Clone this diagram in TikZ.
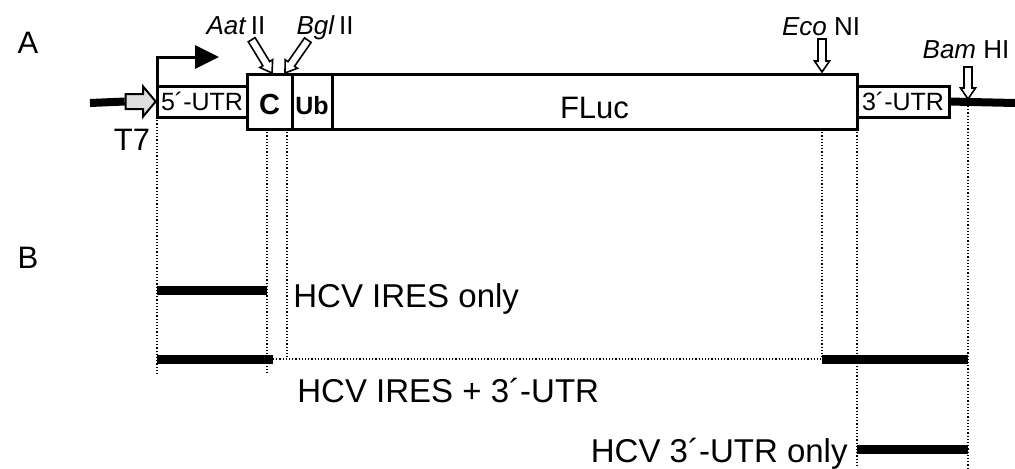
\documentclass[tikz,border=0pt]{standalone}
\usepackage{fontspec}
\setmainfont{Liberation Sans}
\usetikzlibrary{positioning,shapes.arrows,arrows.meta}
\tikzset{>=latex}
\tikzset{pics/cutarrow/.style={code={
    \draw[line width=0.8pt,fill=white] (0,0) -- (-11,7.5) -- (-11,4) -- (-#1,4)
        -- (-#1,-4) -- (-11,-4) -- (-11,-7.5) -- cycle;}}}

\begin{document}
\begin{tikzpicture}[x=0.5pt,y=-0.5pt,
    seg/.style={draw,line width=1.5pt,inner sep=0pt,outer sep=0pt,minimum height=27.5pt},
    utr/.style={seg,minimum height=15.5pt,font=\fontsize{12.5}{14}\selectfont},
    dom/.style={font=\bfseries\fontsize{13.5}{15}\selectfont,text height=13pt,text depth=0pt},
    guide/.style={line width=0.6pt,dash pattern=on 0.6pt off 1pt},
    backbone/.style={line width=4pt},
    frag/.style={line width=4.5pt},
    lbl/.style={font=\fontsize{16.5}{19}\selectfont,inner sep=0pt},
    big/.style={font=\fontsize{15.5}{18}\selectfont,inner sep=0pt},
    site/.style={font=\fontsize{13}{15}\selectfont,inner sep=0pt,anchor=base}]

\useasboundingbox (0,0) rectangle (1015,468);

% panel A: construct
\node[utr,minimum width=45pt] (utr5) at (202,101.5) {5´-UTR};
\node[seg,dom,minimum width=22.5pt,right=0pt of utr5,font=\bfseries\fontsize{14.5}{16}\selectfont] (cbox) {C};
\node[seg,dom,minimum width=20pt,right=0pt of cbox,font=\bfseries\fontsize{12.5}{14}\selectfont] (ub) {Ub};
\node[seg,minimum width=262.5pt,right=0pt of ub,font=\fontsize{15.5}{18}\selectfont,
    text height=16.5pt,text depth=0pt] (fluc) {FLuc};
\node[utr,minimum width=46pt,right=0pt of fluc] (utr3) {3´-UTR};

\node[single arrow,draw,fill=gray!25,line width=1pt,inner xsep=0pt,inner ysep=3.25pt,
    minimum height=15pt,single arrow head extend=3.75pt,single arrow tip angle=100,
    anchor=tip] (t7arrow) at (utr5.west) {};
\node[big,anchor=base] (t7) at (132,150) {T7};

\coordinate (lend) at (90,103);
\coordinate (rend) at (1015,103);
\draw[backbone] (lend) -- (t7arrow.tail);
\draw[backbone] (utr3.east) -- (rend);

% transcription start
\coordinate (tss) at (219,57);
\draw[line width=1.5pt,-{Triangle[length=12pt,width=11.5pt]}] (utr5.north west) |- (tss);

% restriction sites
\pic[rotate=-58.6] at (272,73) {cutarrow=39};
\pic[rotate=-124.8] at (285,73) {cutarrow=40};
\pic[rotate=-90] at (822,72) {cutarrow=33};
\pic[rotate=-90] at (968,99) {cutarrow=32};
\node[site] (aatlbl) at (236,34) {\textit{Aat}\,II};
\node[site] (bgllbl) at (325,34) {\textit{Bgl}\,II};
\node[site] (ecolbl) at (821,35) {\textit{Eco} NI};
\node[site] (bamlbl) at (966,58) {\textit{Bam} HI};

\node[big,anchor=base] (pa) at (28,53) {A};
\node[big,anchor=base] (pb) at (28,268) {B};

% guide lines
\coordinate (aatcut) at (267,129);
\coordinate (bglcut) at (287,129);
\coordinate (ecocut) at (822,129);
\coordinate (bamcut) at (968,106);
\coordinate (utr5end) at (157,375);
\coordinate (aatend) at (267,375);
\coordinate (bglend) at (287,359);
\coordinate (ecoend) at (822,359);
\coordinate (utr3end) at (857,468);
\coordinate (bamend) at (968,468);
\coordinate (ires2end) at (273,359);
\draw[guide] (utr5.south west) -- (utr5end);
\draw[guide] (aatcut) -- (aatend);
\draw[guide] (bglcut) -- (bglend);
\draw[guide] (ecocut) -- (ecoend);
\draw[guide] (fluc.south east) -- (utr3end);
\draw[guide] (bamcut) -- (bamend);
\draw[guide] (ires2end) -- (ecoend);

% panel B: fragments
\coordinate (f1a) at (157,290);
\coordinate (f1b) at (267,290);
\coordinate (f2a) at (157,359);
\coordinate (f2d) at (968,359);
\coordinate (f3a) at (857,449);
\coordinate (f3b) at (968,449);
\draw[frag] (f1a) -- (f1b);
\draw[frag] (f2a) -- (ires2end);
\draw[frag] (ecoend) -- (f2d);
\draw[frag] (f3a) -- (f3b);

\node[lbl,anchor=base west] (ireslbl) at (293,307) {HCV IRES only};
\node[lbl,anchor=base west] (bothlbl) at (297,402) {HCV IRES + 3´-UTR};
\node[lbl,anchor=base east] (utrlbl) at (848,462) {HCV 3´-UTR only};
\end{tikzpicture}
\end{document}
